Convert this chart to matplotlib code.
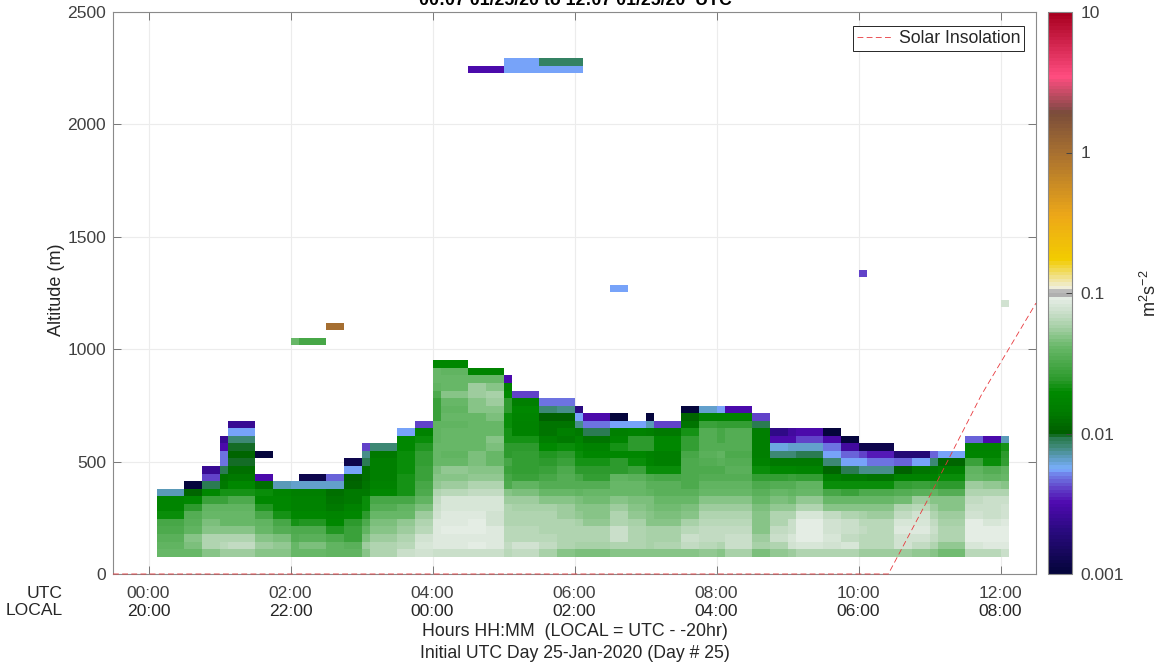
import numpy as np
import matplotlib
matplotlib.use("Agg")
import matplotlib.pyplot as plt
from matplotlib.colors import LinearSegmentedColormap, LogNorm

plt.rcParams['font.family'] = ['Liberation Sans', 'DejaVu Sans']
plt.rcParams['mathtext.fontset'] = 'custom'
plt.rcParams['mathtext.rm'] = 'Liberation Sans'
plt.rcParams['mathtext.default'] = 'regular'

n = np.nan

# variance per scan, bottom gate upwards, in 1e-3 m2/s2
var_cols = [
    [40, 38, 36, 32, 30, 20, 17, 17, 7],
    [42, 45, 48, 38, 36, 35, 25, 18, 11, 1],
    [50, 60, 60, 50, 45, 42, 38, 28, 18, 9, 4, 2.5],
    [55, 65, 62, 50, 42, 40, 38, 28, 22, 14, 13, 9, 5, 5, 3, 2.5],
    [56, 70, 62, 50, 42, 40, 38, 32, 22, 18, 14, 12, 9.5, 11, 9.5, 8, 5.5, 2.5],
    [50, 56, 50, 40, 38, 30, 23, 18, 20, 12, 3, n, n, 1],
    [50, 52, 45, 35, 30, 22, 18, 18, 17, 7],
    [42, 42, 35, 32, 22, 18, 16, 16, 15, 6.5],
    [42, 45, 36, 32, 23, 18, 16, 16, 15, 6.5, 1.2],
    [38, 38, 32, 23, 18, 17, 14, 13, 12.5, 6.5, 4.5],
    [38, 36, 28, 28, 25, 18, 16, 14, 14, 11, 10, 5.5, 1.2],
    [48, 56, 45, 38, 32, 25, 20, 20, 14, 13, 12, 12, 9, 7.5, 4],
    [62, 62, 55, 48, 45, 40, 34, 30, 18, 16, 15, 15, 15, 14, 8],
    [72, 66, 62, 55, 52, 42, 38, 30, 22, 22, 22, 21, 21, 20, 18, 18, 5.5],
    [75, 80, 75, 65, 60, 55, 45, 38, 32, 30, 27, 27, 26, 26, 23, 20, 16, 4],
    [72, 85, 85, 88, 85, 78, 72, 68, 60, 52, 48, 45, 42, 42, 40, 38, 38, 38, 28, 28, 28, 32, 38, 42, 40, 18],
    [72, 85, 88, 92, 88, 85, 82, 80, 65, 55, 50, 52, 42, 38, 40, 40, 40, 38, 40, 38, 40, 48, 42, 42, 38, 18],
    [72, 92, 85, 92, 92, 88, 82, 80, 68, 60, 52, 48, 45, 45, 42, 42, 42, 40, 42, 48, 50, 55, 55, 40, 17],
    [72, 85, 85, 85, 78, 78, 80, 80, 68, 60, 52, 50, 40, 40, 45, 48, 40, 42, 45, 48, 55, 58, 50, 40, 17],
    [65, 70, 65, 65, 62, 60, 60, 55, 50, 32, 30, 28, 30, 25, 25, 22, 22, 20, 20, 25, 25, 19, 16, 3],
    [70, 78, 66, 64, 62, 60, 58, 56, 45, 38, 28, 26, 26, 26, 24, 22, 16, 16, 17, 18, 15, 4],
    [58, 68, 64, 62, 62, 60, 58, 50, 40, 34, 30, 28, 24, 23, 19, 15, 13, 13, 10, 8, 5],
    [48, 62, 62, 60, 60, 55, 55, 50, 40, 34, 34, 32, 28, 25, 20, 14, 15, 13, 10, 7.5, 5],
    [45, 58, 62, 62, 58, 52, 48, 45, 38, 34, 30, 24, 22, 20, 18, 16, 14, 7.5, 5.6, 2],
    [45, 58, 60, 60, 52, 50, 48, 44, 42, 34, 26, 24, 22, 18, 16, 13, 9, 4.8, 3],
    [50, 62, 72, 72, 62, 60, 55, 50, 42, 40, 38, 24, 25, 18, 22, 17, 15, 5.6, 1],
    [50, 60, 60, 62, 58, 52, 48, 45, 42, 40, 36, 28, 20, 18, 24, 24, 16, 5.6],
    [50, 58, 58, 58, 50, 50, 45, 45, 38, 36, 32, 20, 17, 16, 25, 25, 15, 7, 1],
    [50, 62, 58, 58, 50, 46, 44, 42, 36, 36, 30, 20, 15, 15, 18, 18, 14, 4],
    [50, 70, 72, 65, 58, 50, 45, 42, 36, 32, 32, 32, 32, 30, 26, 26, 22, 13, 11, 1],
    [52, 65, 70, 68, 66, 60, 55, 50, 42, 38, 35, 32, 35, 36, 34, 34, 34, 28, 16, 6.5],
    [50, 62, 70, 68, 66, 60, 55, 48, 42, 38, 35, 32, 36, 38, 34, 30, 30, 26, 16, 5.6],
    [58, 72, 74, 68, 66, 62, 56, 50, 42, 38, 35, 36, 35, 32, 34, 34, 34, 26, 16, 3],
    [45, 58, 54, 50, 48, 48, 46, 40, 36, 32, 26, 20, 16, 15, 15, 15, 15, 9, 4],
    [52, 62, 72, 68, 62, 60, 52, 46, 40, 35, 26, 18, 14, 8, 6, 3, 2.2],
    [55, 75, 82, 72, 72, 62, 52, 44, 38, 34, 28, 18, 14, 8, 6.5, 3, 2.8],
    [62, 80, 90, 90, 90, 80, 62, 52, 40, 38, 26, 17, 14, 9, 6.5, 4, 3],
    [62, 78, 80, 78, 75, 68, 50, 40, 30, 20, 15, 11, 8, 5.6, 5, 3, 1],
    [62, 80, 70, 72, 72, 62, 48, 42, 28, 21, 14, 9, 5.6, 4.5, 2.7, 1],
    [56, 66, 66, 68, 66, 58, 50, 42, 32, 21, 14, 7.5, 5.6, 4, 1.2],
    [55, 65, 65, 65, 64, 56, 50, 42, 32, 21, 13, 7.5, 4.8, 3.5, 1.2],
    [56, 75, 75, 85, 80, 68, 60, 44, 34, 26, 16, 10, 4.5, 1.8],
    [52, 70, 75, 85, 82, 76, 66, 55, 36, 28, 16, 13, 5.6, 1.8],
    [50, 62, 70, 72, 68, 60, 55, 48, 38, 26, 16, 14, 8, 4.5],
    [44, 52, 60, 60, 58, 55, 50, 48, 34, 25, 20, 15, 11, 5.6],
    [66, 80, 90, 92, 90, 78, 72, 68, 62, 55, 42, 38, 28, 17, 16, 4.5],
    [66, 88, 92, 92, 84, 74, 74, 74, 62, 52, 38, 35, 20, 17, 16, 3],
    [72, 88, 92, 92, 88, 78, 78, 74, 62, 50, 40, 38, 26, 24, 22, 7],
]

# isolated returns above the boundary layer: scan, gate, value
stray_scan = [7, 8, 9, 25, 39, 47, 17, 18, 19, 20, 21, 22, 23, 19, 20, 21, 22, 23]
stray_gate = [28, 28, 30, 35, 37, 33, 64, 64, 64, 64, 64, 64, 64, 65, 65, 65, 65, 65]
stray_val = [42, 30, 1000, 5.6, 4, 75, 3, 3, 5.6, 5.6, 5.6, 5.6, 5.6, 5.6, 5.6, 8.5, 8.5, 8.5]

scan_min = [0, 22.5, 37.5, 52.5]
start_min = 7.6
gate_bottom = 77
gate_size = 33.6
n_gates = 67

solar_t = [-0.5, 10.42, 11.0, 11.73, 12.5]
solar_alt = [0, 0, 345, 796, 1205]

hour_ticks = [0, 2, 4, 6, 8, 10, 12]
utc_labels = ['00:00', '02:00', '04:00', '06:00', '08:00', '10:00', '12:00']
local_labels = ['20:00', '22:00', '00:00', '02:00', '04:00', '06:00', '08:00']
alt_ticks = [0, 500, 1000, 1500, 2000, 2500]

# colour stops in log10(value)
cm_log = [-3, -2.7, -2.5, -2.4, -2.3, -2.26, -2.17, -2.1, -2.04, -2.0, -1.85, -1.71, -1.62,
          -1.38, -1.25, -1.13, -1.03, -1.015, -0.99, -0.975, -0.76, -0.45, 0.0, 0.29,
          0.32, 0.55, 1]
cm_col = ['#05053c', '#2a0a80', '#4f0ab0', '#6040c8', '#7080e8', '#7ab0ff', '#5a9ab8',
          '#3f8a78', '#2a7a50', '#005f00', '#007c00', '#008a00', '#2c9a2c', '#6ab86a', '#a4cfa4',
          '#cde0cd', '#e6eee6', '#b0b0b0', '#b0b0b0', '#f0f0e8', '#f2cc00', '#eda818',
          '#a87030', '#7a4d3a', '#8c4a4a', '#ff4d80', '#a80020']

pos = [(v + 3) / 4 for v in cm_log]
cmap = LinearSegmentedColormap.from_list('sodar', list(zip(pos, cm_col)), N=160)
cmap.set_bad('white', 0)
norm = LogNorm(0.001, 10)

grid = np.full((n_gates, len(var_cols)), np.nan)
for j, col in enumerate(var_cols):
    grid[:len(col), j] = col
grid[stray_gate, stray_scan] = stray_val
grid = np.ma.masked_invalid(grid / 1000.0)

t_edges = []
for h in range(12):
    for m in scan_min:
        t_edges.append(h + (start_min + m) / 60.0)
t_edges.append(12 + start_min / 60.0)
z_edges = gate_bottom + gate_size * np.arange(n_gates + 1)

fig = plt.figure(figsize=(11.62, 6.68), dpi=100)
ax = fig.add_axes([113 / 1162, 1 - 574 / 668, 923 / 1162, 562 / 668])
cax = fig.add_axes([1048 / 1162, 1 - 574 / 668, 24 / 1162, 562 / 668])

mesh = ax.pcolormesh(t_edges, z_edges, grid, cmap=cmap, norm=norm, zorder=1, linewidth=0)
line, = ax.plot(solar_t, solar_alt, color='#e8383d', ls=(0, (7, 4)), lw=0.6, zorder=3, clip_on=False)

ax.set_xlim(-0.5, 12.5)
ax.set_ylim(0, 2500)
ax.set_xticks(hour_ticks)
ax.set_xticklabels(utc_labels)
ax.set_yticks(alt_ticks)
ax.grid(True, color='#ececec', lw=0.8, zorder=0)
ax.set_axisbelow(True)
ax.tick_params(axis='both', direction='in', length=6, width=0.7, color='#777777',
               labelcolor='#404040', labelsize=12.6, top=True, right=True)
ax.tick_params(axis='x', pad=9)
ax.tick_params(axis='y', pad=5)
for s in ax.spines.values():
    s.set_color('#8a8a8a')
    s.set_linewidth(0.8)

ax.set_ylabel('Altitude (m)', fontsize=13, color='#262626', labelpad=1)
ax.yaxis.set_label_coords((65 - 113) / 923, 0.5 + 3 / 562)

for h, lab in zip(hour_ticks, local_labels):
    ax.annotate(lab, xy=(h, 0), xycoords=('data', 'axes fraction'), xytext=(0, -42),
                textcoords='offset pixels', ha='center', va='baseline', fontsize=12.6, color='#262626')

def fig_text(x, y, s, **kw):
    fig.text(x / 1162, 1 - y / 668, s, **kw)

fig_text(63, 598, 'UTC', ha='right', va='baseline', fontsize=12.6, color='#262626')
fig_text(63, 615, 'LOCAL', ha='right', va='baseline', fontsize=12.6, color='#262626')
fig_text(575, 636, 'Hours HH:MM  (LOCAL = UTC - -20hr)', ha='center', va='baseline', fontsize=12.8, color='#262626')
fig_text(575, 658, 'Initial UTC Day 25-Jan-2020 (Day # 25)', ha='center', va='baseline', fontsize=12.7, color='#262626')
fig_text(575, 5, '00:07 01/25/20 to 12:07 01/25/20  UTC', ha='center', va='baseline', fontsize=12.8, fontweight='bold', color='black')

leg = ax.legend([line], ['Solar Insolation'], loc='upper right', fontsize=12.7, fancybox=False,
                framealpha=1, edgecolor='#262626', bbox_to_anchor=(1 - 12 / 923, 1 - 14 / 562), borderaxespad=0,
                borderpad=0.22, handlelength=2.0, handletextpad=0.35)
leg.get_frame().set_linewidth(0.7)
for t in leg.get_texts():
    t.set_color('#262626')

cb = fig.colorbar(mesh, cax=cax)
cb.set_ticks([0.001, 0.01, 0.1, 1, 10])
cb.set_ticklabels(['0.001', '0.01', '0.1', '1', '10'])
cb.ax.minorticks_off()
cb.ax.tick_params(direction='in', length=4, width=0.7, color='#444444', labelcolor='#404040', labelsize=12.6, pad=6)
cb.outline.set_edgecolor('#8a8a8a')
cb.outline.set_linewidth(0.8)
fig_text(1150, 293, 'm$^{2}$s$^{-2}$', rotation=90, ha='center', va='center', fontsize=13, color='#262626')

fig.savefig('out.png', dpi=100)
